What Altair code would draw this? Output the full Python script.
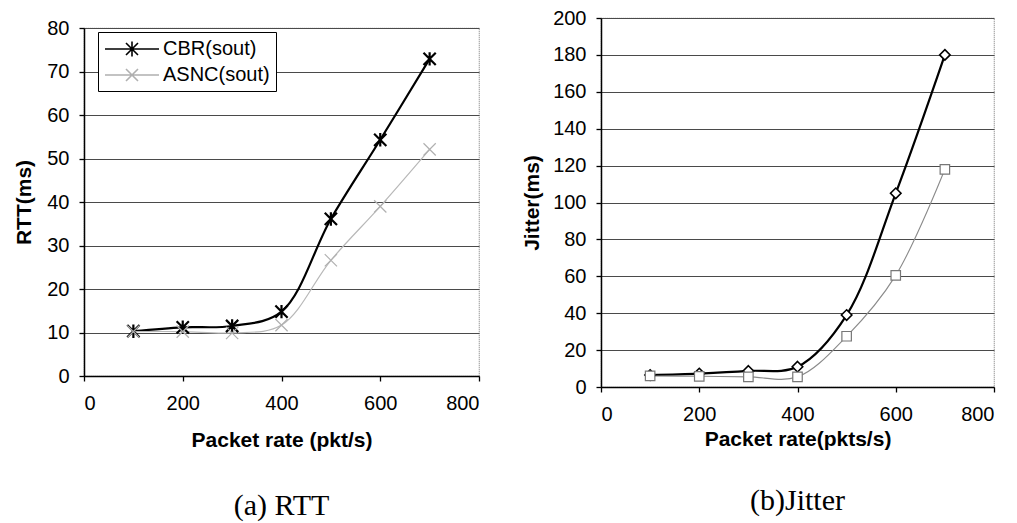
import altair as alt
import pandas as pd

# ---------------- data ----------------
rates = [100, 200, 300, 400, 500, 600, 700]
series_names = ["CBR(sout)", "ASNC(sout)"]

rtt_cbr = [10.3, 11.2, 11.5, 14.8, 36.1, 54.3, 72.9]
rtt_asnc = [10.2, 10.2, 9.9, 11.7, 26.6, 39.0, 52.1]

jit_cbr = [6.5, 7.3, 8.7, 11.0, 39.0, 105.0, 180.0]
jit_asnc = [6.0, 5.8, 5.5, 5.5, 27.5, 60.5, 118.0]

x_ticks = [0, 200, 400, 600, 800]
rtt_ticks = [0, 10, 20, 30, 40, 50, 60, 70, 80]
jit_ticks = [0, 20, 40, 60, 80, 100, 120, 140, 160, 180, 200]

rtt_xtitle = "Packet rate (pkt/s)"
jit_xtitle = "Packet rate(pkts/s)"
rtt_ytitle = "RTT(ms)"
jit_ytitle = "Jitter(ms)"
caption_a = "(a)  RTT"
caption_b = "(b)Jitter"

SANS = "Liberation Sans"
SERIF = "Liberation Serif"


def make_df(a, b):
    rows = []
    for r, v in zip(rates, a):
        rows.append({"rate": r, "value": v, "series": series_names[0]})
    for r, v in zip(rates, b):
        rows.append({"rate": r, "value": v, "series": series_names[1]})
    return pd.DataFrame(rows)


def panel(df, w, h, yticks, ytitle, xtitle, styles, legend_paths, legend_cfg,
          x_label_pad, x_title_pad, y_title_pad, caption, cap_offset):
    xenc = alt.X("rate:Q", scale=alt.Scale(domain=[0, 800], nice=False),
                 axis=alt.Axis(values=x_ticks, title=xtitle, grid=False,
                               labelPadding=x_label_pad, titlePadding=x_title_pad))
    yenc = alt.Y("value:Q", scale=alt.Scale(domain=[yticks[0], yticks[-1]], nice=False),
                 axis=alt.Axis(values=yticks, title=ytitle, grid=True,
                               labelPadding=10, titlePadding=y_title_pad))
    layers = []
    for name, st in zip(series_names, styles):
        base = alt.Chart(df).transform_filter(alt.datum.series == name)
        layers.append(base.mark_line(interpolate="catmull-rom", color=st["line"],
                                     strokeWidth=st["lw"]).encode(x=xenc, y=yenc))
    for name, st in zip(series_names, styles):
        base = alt.Chart(df).transform_filter(alt.datum.series == name)
        layers.append(base.mark_point(shape=st["shape"], size=st["size"], filled=True,
                                      fill=st["fill"], stroke=st["mcolor"],
                                      strokeWidth=st["mw"], opacity=1).encode(x=xenc, y=yenc))
    leg = alt.Legend(title=None, orient="none", **legend_cfg)
    legend_layer = alt.Chart(df).transform_filter("datum.rate < 0").mark_point(
        filled=True, opacity=1).encode(
        x=xenc, y=yenc,
        shape=alt.Shape("series:N", scale=alt.Scale(domain=series_names, range=legend_paths), legend=leg),
        stroke=alt.Stroke("series:N", scale=alt.Scale(domain=series_names,
                                                       range=[s["legend_color"] for s in styles]), legend=leg),
        fill=alt.Fill("series:N", scale=alt.Scale(domain=series_names, range=["white", "white"]), legend=leg),
    )
    layers.append(legend_layer)
    return alt.layer(*layers).properties(
        width=w, height=h,
        title=alt.TitleParams(text=caption, orient="bottom", anchor="middle", font=SERIF,
                              fontSize=30, fontWeight="normal", color="black", offset=cap_offset),
    )


ASTERISK = "M-1,-1L1,1M-1,1L1,-1M0,-1.1L0,1.1"
XMARK = "M-1,-1L1,1M-1,1L1,-1"
DIAMOND = "M0,-1L1,0L0,1L-1,0Z"
SQUARE = "M-1,-1L1,-1L1,1L-1,1Z"

rtt_styles = [
    {"line": "black", "lw": 2.2, "shape": ASTERISK, "size": 150, "fill": "black",
     "mcolor": "black", "mw": 2.2, "legend_color": "black"},
    {"line": "#b8b8b8", "lw": 1.2, "shape": XMARK, "size": 150, "fill": "#b8b8b8",
     "mcolor": "#b0b0b0", "mw": 1.2, "legend_color": "#b0b0b0"},
]
jit_styles = [
    {"line": "black", "lw": 2.2, "shape": DIAMOND, "size": 110, "fill": "white",
     "mcolor": "black", "mw": 1.6, "legend_color": "black"},
    {"line": "#8a8a8a", "lw": 1.1, "shape": SQUARE, "size": 90, "fill": "white",
     "mcolor": "#777777", "mw": 1.2, "legend_color": "#8a8a8a"},
]

rtt_legend_paths = [
    "M-1,0L4.4,0M1.1,-0.6L2.3,0.6M1.1,0.6L2.3,-0.6M1.7,-0.75L1.7,0.75",
    "M-1,0L4.4,0M1.1,-0.6L2.3,0.6M1.1,0.6L2.3,-0.6",
]
jit_legend_paths = [
    "M-1,0L0.95,0M2.05,0L4,0M1.5,-0.55L2.05,0L1.5,0.55L0.95,0Z",
    "M-1,0L1.05,0M1.95,0L4,0M1.05,-0.45L1.95,-0.45L1.95,0.45L1.05,0.45Z",
]

rtt_legend_cfg = dict(legendX=14, legendY=14, strokeColor="black", fillColor="white",
                      padding=6, rowPadding=4, labelOffset=37, symbolSize=400,
                      symbolStrokeWidth=1.6, labelFont=SANS, labelFontSize=20,
                      labelColor="black")
jit_legend_cfg = dict(legendX=5, legendY=6, strokeColor="black", fillColor="white",
                      padding=7, rowPadding=12, labelOffset=35, symbolSize=400,
                      symbolStrokeWidth=1.6, labelFont=SANS, labelFontSize=21,
                      labelColor="black")

left = panel(make_df(rtt_cbr, rtt_asnc), 395, 348, rtt_ticks, rtt_ytitle, rtt_xtitle,
             rtt_styles, rtt_legend_paths, rtt_legend_cfg,
             x_label_pad=12, x_title_pad=16, y_title_pad=12,
             caption=caption_a, cap_offset=41)

right = panel(make_df(jit_cbr, jit_asnc), 393, 369, jit_ticks, jit_ytitle, jit_xtitle,
              jit_styles, jit_legend_paths, jit_legend_cfg,
              x_label_pad=12, x_title_pad=4, y_title_pad=10,
              caption=caption_b, cap_offset=37)

spacer = alt.Chart(pd.DataFrame({"v": [0]})).mark_point(opacity=0).properties(
    width=395, height=1, view=alt.ViewBackground(strokeOpacity=0))

left_col = alt.vconcat(spacer, left, spacing=-5)

chart = alt.hconcat(left_col, right, spacing=40).properties(
    padding={"left": 5, "top": -1, "right": 0, "bottom": 0},
    background="white",
).configure_view(
    stroke="#8c8c8c", strokeDash=[1, 1], strokeWidth=1.2,
).configure_axis(
    labelFont=SANS, labelFontSize=20, labelColor="black",
    titleFont=SANS, titleFontSize=21, titleFontWeight="bold", titleColor="black",
    domainColor="black", domainWidth=1.5, tickColor="black", tickSize=5, tickWidth=1.3,
    gridColor="#4a4a4a", gridWidth=1,
)

chart.save("out.html", embed_options={"renderer": "svg", "actions": False})
